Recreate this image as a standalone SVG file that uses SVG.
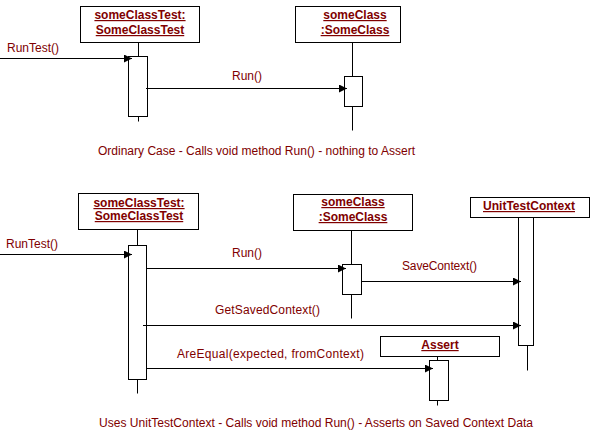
<svg xmlns="http://www.w3.org/2000/svg" width="597" height="441" viewBox="0 0 597 441">
<defs>
<marker id="ah" viewBox="0 0 8 8" refX="8" refY="4" markerWidth="8" markerHeight="8" markerUnits="userSpaceOnUse" orient="auto">
<path d="M0,0 L8,4 L0,8 Z" fill="#000"/>
</marker>
</defs>
<style>
.box{fill:#fff;stroke:#000;stroke-width:1}
.act{fill:#fff;stroke:#000;stroke-width:1}
.life{stroke:#000;stroke-width:1;fill:none}
.msg{stroke:#000;stroke-width:1;fill:none;marker-end:url(#ah)}
.title{font-family:"Liberation Sans",Arial,sans-serif;font-size:12px;font-weight:bold;fill:#800000;text-decoration:underline;text-anchor:middle}
.lbl{font-family:"Liberation Sans",Arial,sans-serif;font-size:12px;fill:#800000}
.cap{font-family:"Liberation Sans",Arial,sans-serif;font-size:12px;fill:#800000}
</style>
<rect width="597" height="441" fill="#fff"/>

<!-- Top diagram -->
<g id="top-someClassTest">
<rect class="box" x="80.5" y="6.5" width="119" height="36"/>
<text class="title" x="140" y="19">someClassTest:</text>
<text class="title" x="140" y="34">SomeClassTest</text>
<line class="life" x1="138.5" y1="42.5" x2="138.5" y2="56.5"/>
<rect class="act" x="128.5" y="56.5" width="19" height="60"/>
<line class="life" x1="138.5" y1="116.5" x2="138.5" y2="121.5"/>
</g>
<g id="top-someClass">
<rect class="box" x="295.5" y="6.5" width="105" height="36"/>
<text class="title" x="355" y="19">someClass</text>
<text class="title" x="355" y="34">:SomeClass</text>
<line class="life" x1="352.5" y1="42.5" x2="352.5" y2="76.5"/>
<rect class="act" x="344.5" y="76.5" width="18" height="30"/>
<line class="life" x1="352.5" y1="106.5" x2="352.5" y2="130.5"/>
</g>
<g id="top-connectors">
<line class="msg" x1="0" y1="58.5" x2="132" y2="58.5"/>
<text class="lbl" x="7" y="52">RunTest()</text>
<line class="msg" x1="146" y1="88.5" x2="347" y2="88.5"/>
<text class="lbl" x="232" y="80">Run()</text>
</g>
<text class="cap" x="98" y="155" textLength="317" lengthAdjust="spacingAndGlyphs">Ordinary Case - Calls void method Run() - nothing to Assert</text>

<!-- Bottom diagram -->
<g id="bot-someClassTest">
<rect class="box" x="78.5" y="193.5" width="120" height="36"/>
<text class="title" x="139" y="207">someClassTest:</text>
<text class="title" x="139" y="220">SomeClassTest</text>
<line class="life" x1="137.5" y1="229.5" x2="137.5" y2="245.5"/>
<rect class="act" x="128.5" y="245.5" width="18" height="134"/>
<line class="life" x1="137.5" y1="379.5" x2="137.5" y2="393.5"/>
</g>
<g id="bot-someClass">
<rect class="box" x="293.5" y="194.5" width="119" height="36"/>
<text class="title" x="353" y="206">someClass</text>
<text class="title" x="353" y="221">:SomeClass</text>
<line class="life" x1="351.5" y1="230.5" x2="351.5" y2="264.5"/>
<rect class="act" x="342.5" y="264.5" width="19" height="30"/>
<line class="life" x1="351.5" y1="294.5" x2="351.5" y2="318.5"/>
</g>
<g id="bot-UnitTestContext">
<rect class="box" x="470.5" y="197.5" width="119" height="20"/>
<text class="title" x="529" y="210" textLength="92" lengthAdjust="spacingAndGlyphs">UnitTestContext</text>
<rect class="act" x="518.5" y="217.5" width="15" height="128"/>
<line class="life" x1="527.5" y1="345.5" x2="527.5" y2="370.5"/>
</g>
<g id="bot-Assert">
<rect class="box" x="380.5" y="336.5" width="119" height="20"/>
<text class="title" x="440" y="349">Assert</text>
<line class="life" x1="437.5" y1="356.5" x2="437.5" y2="360.5"/>
<rect class="act" x="429.5" y="360.5" width="19" height="40"/>
<line class="life" x1="437.5" y1="400.5" x2="437.5" y2="405.5"/>
</g>
<g id="bot-connectors">
<line class="msg" x1="0" y1="254.5" x2="132" y2="254.5"/>
<text class="lbl" x="6" y="248">RunTest()</text>
<line class="msg" x1="147" y1="268.5" x2="346" y2="268.5"/>
<text class="lbl" x="232" y="257">Run()</text>
<line class="msg" x1="362" y1="281.5" x2="521" y2="281.5"/>
<text class="lbl" x="402" y="270" textLength="75">SaveContext()</text>
<line class="msg" x1="143" y1="325.5" x2="521" y2="325.5"/>
<text class="lbl" x="215" y="314" textLength="105">GetSavedContext()</text>
<line class="msg" x1="147" y1="368.5" x2="433" y2="368.5"/>
<text class="lbl" x="177" y="358" textLength="187">AreEqual(expected, fromContext)</text>
</g>
<text class="cap" x="99" y="427" textLength="434" lengthAdjust="spacingAndGlyphs">Uses UnitTestContext - Calls void method Run() - Asserts on Saved Context Data</text>
</svg>
